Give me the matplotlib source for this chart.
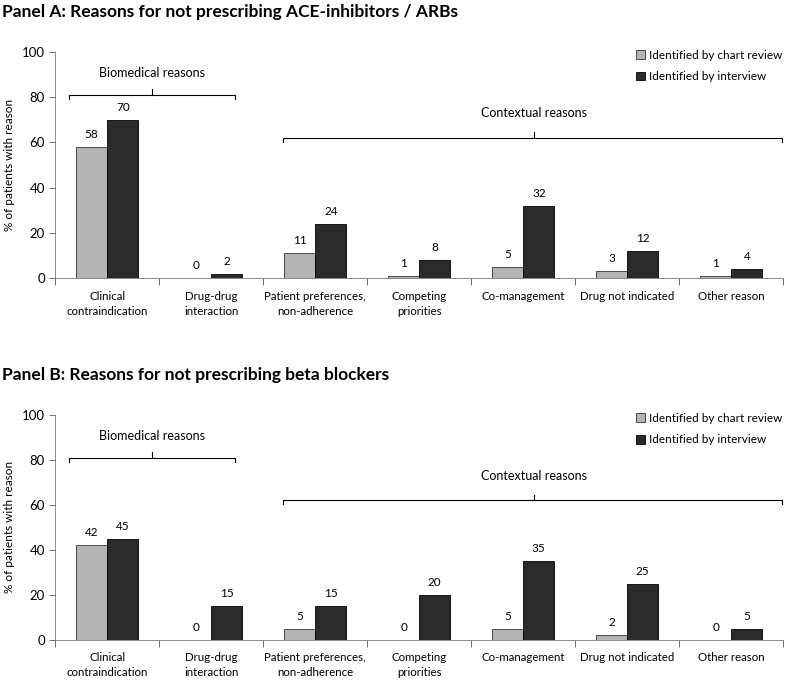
import numpy as np
import matplotlib
matplotlib.use("Agg")
import matplotlib.pyplot as plt

plt.rcParams['font.family'] = ['Lato', 'DejaVu Sans']

# Datos
categorias = ["Clinical\ncontraindication", "Drug-drug\ninteraction",
              "Patient preferences,\nnon-adherence", "Competing\npriorities",
              "Co-management", "Drug not indicated", "Other reason"]
ace_chart = [58, 0, 11, 1, 5, 3, 1]
ace_interview = [70, 2, 24, 8, 32, 12, 4]
beta_chart = [42, 0, 5, 0, 5, 2, 0]
beta_interview = [45, 15, 15, 20, 35, 25, 5]
titulos = ["Panel A: Reasons for not prescribing ACE-inhibitors / ARBs",
           "Panel B: Reasons for not prescribing beta blockers"]

gris = '#b4b4b4'
oscuro = '#2b2b2b'
ancho = 0.3


def corchete(ax, x0, x1, xc, y, texto, ytexto):
    # linea horizontal con extremos hacia abajo y pico central hacia arriba
    ax.plot([x0, x0, x1, x1], [y - 1.8, y, y, y - 1.8], color='black', lw=0.8, clip_on=False)
    ax.plot([xc, xc], [y, y + 2.5], color='black', lw=0.8, clip_on=False)
    ax.text(xc, ytexto, texto, ha='center', va='center', fontsize=9)


def panel(ax, chart, interview, titulo):
    x = np.arange(len(categorias))
    b1 = ax.bar(x - ancho / 2, chart, ancho, color=gris, edgecolor='#333333', lw=0.6,
                label='Identified by chart review')
    b2 = ax.bar(x + ancho / 2, interview, ancho, color=oscuro, edgecolor='black', lw=0.6,
                label='Identified by interview')
    for barras in (b1, b2):
        for b in barras:
            ax.annotate(f"{b.get_height():g}", (b.get_x() + b.get_width() / 2, b.get_height()),
                        xytext=(0, 5), textcoords='offset points', ha='center', va='bottom',
                        fontsize=8.5)
    ax.set_xlim(-0.5, len(categorias) - 0.5)
    ax.set_ylim(0, 100)
    ax.set_yticks(range(0, 101, 20))
    ax.set_xticks(x)
    ax.set_xticklabels(categorias, fontsize=8.3, linespacing=1.45)
    ax.set_xticks(np.arange(-0.5, len(categorias), 1), minor=True)
    ax.tick_params(axis='x', which='major', length=0, pad=9)
    ax.tick_params(axis='x', which='minor', length=5, width=0.6, color='#555555')
    ax.tick_params(axis='y', labelsize=9.5, length=4, width=0.6, color='#555555')
    ax.spines['top'].set_visible(False)
    ax.spines['right'].set_visible(False)
    ax.spines['left'].set_color('#777777')
    ax.spines['bottom'].set_color('#777777')
    ax.spines['left'].set_linewidth(0.6)
    ax.spines['bottom'].set_linewidth(0.6)
    ax.set_ylabel('% of patients with reason', fontsize=8.5, labelpad=5)
    ax.legend(loc='upper right', bbox_to_anchor=(1.005, 1.03), frameon=False, fontsize=8.5,
              borderaxespad=0, handlelength=0.75, handleheight=0.75, handletextpad=0.35,
              labelspacing=0.9)
    corchete(ax, -0.37, 1.23, 0.43, 81, 'Biomedical reasons', 90.5)
    corchete(ax, 1.69, 6.49, 4.1, 62, 'Contextual reasons', 73)
    ax.figure.text(0.003, ax.get_position().y1 + 0.058, titulo, fontsize=12.5,
                   fontweight='bold', ha='left', va='center')


fig = plt.figure(figsize=(8, 6.8), dpi=100)
ax1 = fig.add_axes([0.069, 0.591, 0.91, 0.333])
ax2 = fig.add_axes([0.069, 0.059, 0.91, 0.331])
panel(ax1, ace_chart, ace_interview, titulos[0])
panel(ax2, beta_chart, beta_interview, titulos[1])

fig.savefig('out.png', dpi=100)
